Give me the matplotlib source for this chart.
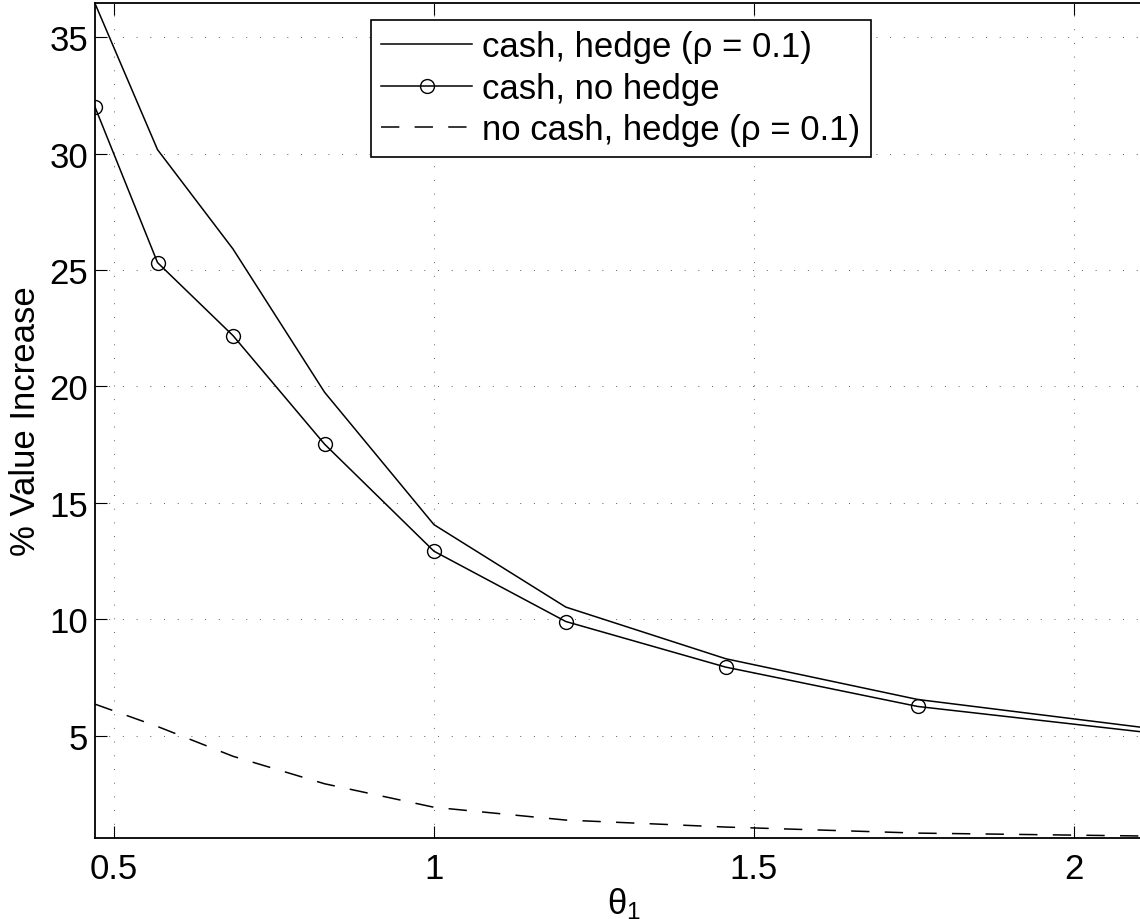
import matplotlib
matplotlib.use('Agg')
import matplotlib.pyplot as plt

# ---- data ----
theta = [0.4703, 0.568, 0.686, 0.829, 1.0, 1.206, 1.456, 1.756, 2.122]
cash_hedge = [36.45, 30.17, 25.9, 19.75, 14.06, 10.52, 8.30, 6.55, 5.30]
cash_nohedge = [32.0, 25.32, 22.18, 17.52, 12.92, 9.90, 7.94, 6.25, 5.11]
nocash_hedge = [6.35, 5.39, 4.11, 2.93, 1.92, 1.37, 1.07, 0.81, 0.68]

labels = ['cash, hedge (\u03c1 = 0.1)', 'cash, no hedge', 'no cash, hedge (\u03c1 = 0.1)']
xticks = [0.5, 1, 1.5, 2]
xticklabels = ['0.5', '1', '1.5', '2']
yticks = [5, 10, 15, 20, 25, 30, 35]
ylim = (0.6, 36.47)

plt.rcParams['font.family'] = ['Liberation Sans', 'DejaVu Sans']
plt.rcParams['mathtext.fontset'] = 'custom'
plt.rcParams['mathtext.rm'] = 'Liberation Sans'
plt.rcParams['mathtext.it'] = 'Liberation Sans'

FS = 25
W, H = 1140, 920
fig = plt.figure(figsize=(W / 100, H / 100), dpi=100)
left, right, top, bottom = 95, 1152, 4, 839
ax = fig.add_axes([left / W, 1 - bottom / H, (right - left) / W, (bottom - top) / H])

lw = 1.1
ax.plot(theta, cash_hedge, color='black', lw=lw, label=labels[0])
ax.plot(theta, cash_nohedge, color='black', lw=lw, marker='o', ms=10,
        mfc='none', mec='black', mew=1.0, label=labels[1])
ax.plot(theta, nocash_hedge, color='black', lw=lw, linestyle=(0, (12, 10)),
        label=labels[2])

ax.set_xlim(theta[0], theta[-1])
ax.set_ylim(*ylim)
ax.set_xticks(xticks)
ax.set_xticklabels(xticklabels)
ax.set_yticks(yticks)

ax.grid(True, linestyle=(0, (1, 12.7)), linewidth=0.72, color='0.4')
ax.tick_params(direction='in', length=8.6, width=0.8, top=True, right=True,
               labelsize=FS, colors='black')
ax.tick_params(axis='x', pad=10)
ax.tick_params(axis='y', pad=5)
for s in ax.spines.values():
    s.set_linewidth(1.3)

ax.set_ylabel('% Value Increase', fontsize=FS)
ax.yaxis.set_label_coords(-0.050, 0.5)
ax.set_xlabel(r'$\theta_1$', fontsize=FS, labelpad=0)

leg = ax.legend(loc='upper left', bbox_to_anchor=(371 / W, 1 - 21 / H),
                bbox_transform=fig.transFigure, borderaxespad=0,
                fontsize=FS, handlelength=2.6, handletextpad=0.3,
                labelspacing=0.24, borderpad=0.3, numpoints=1,
                fancybox=False, framealpha=1, edgecolor='black')
leg.get_frame().set_linewidth(1.2)

fig.savefig('out.png', dpi=100)
